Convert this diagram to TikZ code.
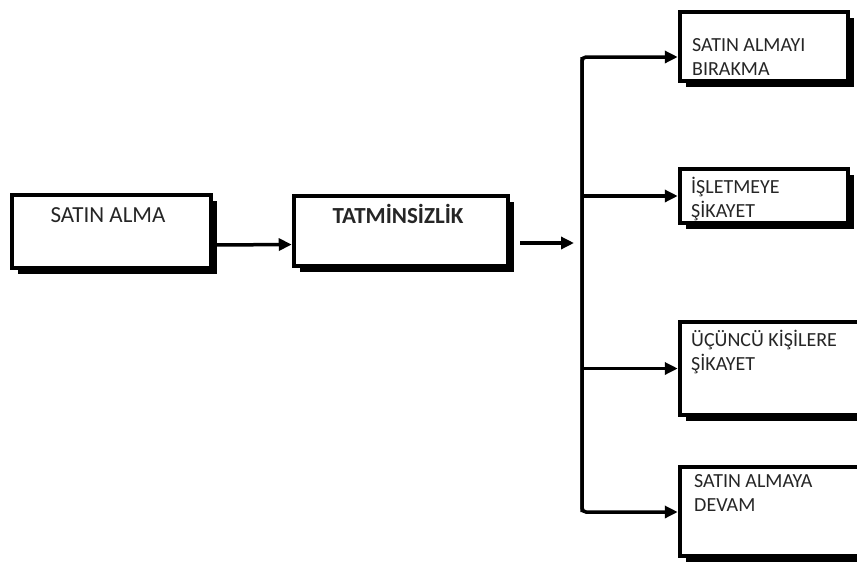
\documentclass[tikz,border=0pt]{standalone}
\usepackage{fontspec}
\setmainfont{Carlito}
\usetikzlibrary{arrows.meta, positioning, shadows}

\begin{document}
\begin{tikzpicture}[x=1pt,y=-1pt,
    box/.style={draw, line width=4.5pt, fill=white, inner sep=0pt,
        drop shadow={shadow xshift=6pt, shadow yshift=-6pt, fill=black, opacity=1}},
    link/.style={line width=3.5pt, -{Triangle[length=13pt,width=12pt]}},
    lefttext/.style={font=\fontsize{23}{27}\selectfont, text=black!85, inner sep=0pt, anchor=base},
    righttext/.style={font=\fontsize{20}{24}\selectfont, text=black!85, inner sep=0pt, align=left, anchor=base west}]
    \clip (0,0) rectangle (857,563);
    \fill[white] (0,0) rectangle (857,563);
    % left chain
    \node[box, minimum width=199pt, minimum height=73pt] (buy) at (111.5,231.5) {};
    \node[box, minimum width=214pt, minimum height=70pt] (dis) at (401,231) {};
    \node[lefttext] (buytxt) at (108,222) {SATIN ALMA};
    \node[lefttext] (distxt) at (398,223) {\bfseries TATMİNSİZLİK};
    % right column
    \node[box, minimum width=168pt, minimum height=69pt] (quit) at (764,46.5) {};
    \node[box, minimum width=168pt, minimum height=54pt] (firm) at (764,196) {};
    \node[box, minimum width=198pt, minimum height=93pt] (third) at (779,368.5) {};
    \node[box, minimum width=198pt, minimum height=89pt] (keep) at (779,511.5) {};
    \node[righttext] (quittxt) at (692,75) {SATIN ALMAYI\\BIRAKMA};
    \node[righttext] (firmtxt) at (691,217) {İŞLETMEYE\\ŞİKAYET};
    \node[righttext] (thirdtxt) at (691,370) {ÜÇÜNCÜ KİŞİLERE\\ŞİKAYET};
    \node[righttext] (keeptxt) at (694,511) {SATIN ALMAYA\\DEVAM};
    % connectors
    \coordinate (split) at (574,243);
    \coordinate (top) at (582,57);
    \coordinate (bottom) at (582,512);
    \draw[link] ([yshift=-13.5pt]buy.east) -- ([yshift=-13.5pt]dis.west);
    \draw[link] (dis.east |- split) ++(10,0) -- (split);
    \draw[link, rounded corners=4pt] (bottom) -- (top) -- (quit.west |- top);
    \draw[link, rounded corners=4pt] (top) -- (bottom) -- (keep.west |- bottom);
    \draw[link] (top |- firm.west) -- (firm.west);
    \draw[link] (top |- third.west) -- (third.west);
\end{tikzpicture}
\end{document}
